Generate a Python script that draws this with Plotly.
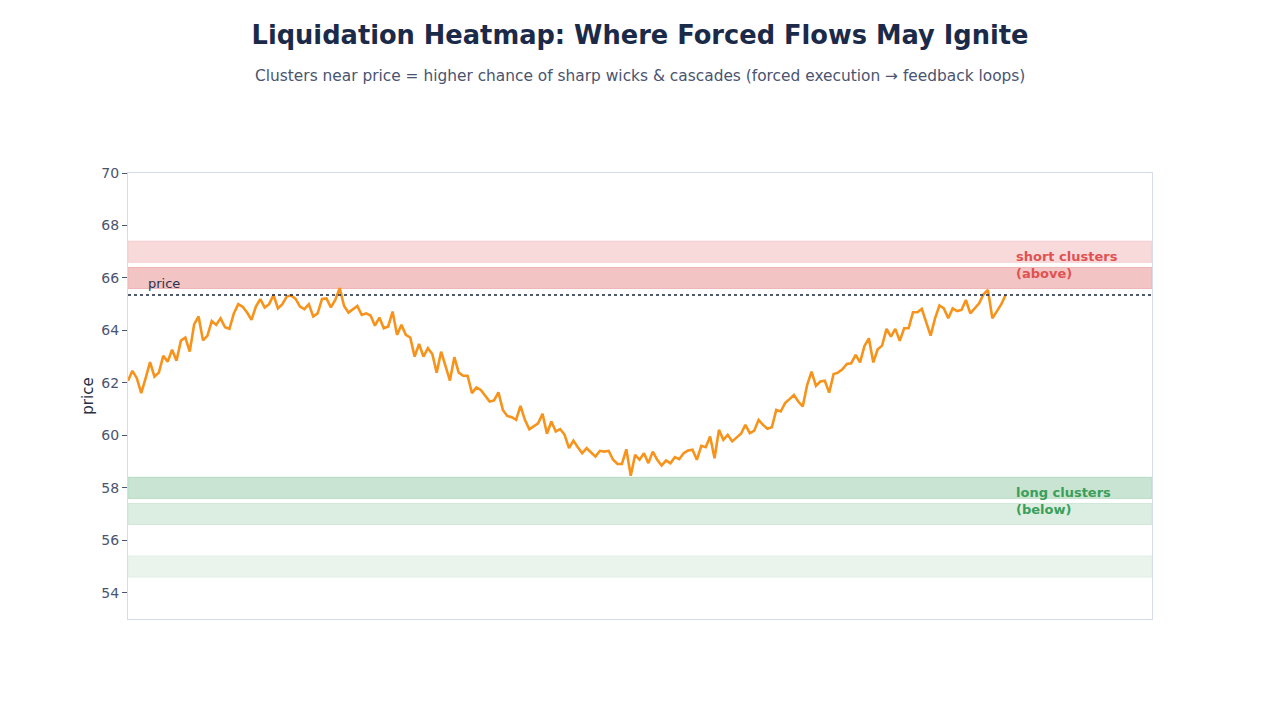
import plotly.graph_objects as go

# ---- data ----
prices = [
    62.08, 62.46, 62.18, 61.61, 62.18, 62.79, 62.24, 62.39, 63.03, 62.81,
    63.26, 62.84, 63.61, 63.73, 63.19, 64.23, 64.53, 63.62, 63.79, 64.36,
    64.21, 64.46, 64.12, 64.06, 64.65, 65.00, 64.90, 64.68, 64.40, 64.91,
    65.19, 64.87, 65.00, 65.35, 64.84, 65.00, 65.29, 65.33, 65.20, 64.91,
    64.81, 65.00, 64.53, 64.65, 65.20, 65.22, 64.88, 65.16, 65.61, 64.93,
    64.68, 64.81, 64.93, 64.59, 64.65, 64.57, 64.18, 64.49, 64.08, 64.15,
    64.72, 63.83, 64.21, 63.83, 63.73, 63.00, 63.48, 63.00, 63.32, 63.10,
    62.39, 63.19, 62.62, 62.09, 62.98, 62.39, 62.27, 62.27, 61.61, 61.83,
    61.73, 61.50, 61.29, 61.33, 61.64, 60.97, 60.74, 60.69, 60.59, 61.12,
    60.59, 60.23, 60.34, 60.46, 60.82, 60.06, 60.53, 60.15, 60.24, 60.02,
    59.51, 59.80, 59.55, 59.32, 59.51, 59.35, 59.19, 59.41, 59.38, 59.41,
    59.07, 58.91, 58.91, 59.47, 58.46, 59.26, 59.07, 59.32, 58.94, 59.38,
    59.07, 58.85, 59.04, 58.94, 59.17, 59.09, 59.32, 59.42, 59.45, 59.07,
    59.60, 59.55, 59.96, 59.13, 60.21, 59.83, 60.02, 59.77, 59.93, 60.06,
    60.40, 60.08, 60.18, 60.59, 60.40, 60.25, 60.31, 60.97, 60.91, 61.23,
    61.38, 61.54, 61.29, 61.10, 61.92, 62.43, 61.89, 62.05, 62.08, 61.63,
    62.34, 62.39, 62.52, 62.72, 62.75, 63.07, 62.78, 63.41, 63.70, 62.78,
    63.28, 63.42, 64.06, 63.76, 64.06, 63.60, 64.08, 64.08, 64.69, 64.69,
    64.82, 64.34, 63.80, 64.46, 64.95, 64.84, 64.46, 64.84, 64.74, 64.78,
    65.16, 64.65, 64.82, 65.03, 65.38, 65.54, 64.46, 64.74, 64.99, 65.35,
]
steps = list(range(len(prices)))

short_zones_low = [66.6, 65.6]
short_zones_high = [67.4, 66.4]
short_zone_colors = ["#f8dadb", "#f3c4c4"]
short_zone_edges = ["#f3cdce", "#edb3b3"]

long_zones_low = [57.6, 56.6, 54.6]
long_zones_high = [58.4, 57.4, 55.4]
long_zone_colors = ["#c9e4d2", "#dcede2", "#eaf4ec"]
long_zone_edges = ["#b5dbc1", "#cfe6d6", "#e2f0e6"]

y_ticks = [54, 56, 58, 60, 62, 64, 66, 68, 70]

title_text = "Liquidation Heatmap: Where Forced Flows May Ignite"
subtitle_text = "Clusters near price = higher chance of sharp wicks & cascades (forced execution \u2192 feedback loops)"

FONT = "DejaVu Sans"

fig = go.Figure()

for lo, hi, fc, ec in zip(short_zones_low, short_zones_high, short_zone_colors, short_zone_edges):
    fig.add_shape(type="rect", xref="paper", x0=0, x1=1, yref="y", y0=lo, y1=hi,
                  fillcolor=fc, line=dict(color=ec, width=1), layer="below")
for lo, hi, fc, ec in zip(long_zones_low, long_zones_high, long_zone_colors, long_zone_edges):
    fig.add_shape(type="rect", xref="paper", x0=0, x1=1, yref="y", y0=lo, y1=hi,
                  fillcolor=fc, line=dict(color=ec, width=1), layer="below")

last_price = prices[-1]
fig.add_shape(type="line", xref="paper", x0=0, x1=1, yref="y", y0=last_price, y1=last_price,
              line=dict(color="#1a2340", width=1.3, dash="dot"))

fig.add_trace(go.Scatter(x=steps, y=prices, mode="lines",
                         line=dict(color="#f7931a", width=2.6), showlegend=False,
                         hoverinfo="skip"))

fig.add_annotation(x=4.0, y=last_price, xref="x", yref="y", text="price",
                   showarrow=False, xanchor="left", yanchor="bottom", yshift=2,
                   font=dict(family=FONT, size=13, color="#2a3350"))

fig.add_annotation(x=len(prices) + 1, y=66.5, xref="x", yref="y",
                   text="<b>short clusters<br>(above)</b>", showarrow=False,
                   xanchor="left", yanchor="middle", align="left",
                   font=dict(family=FONT, size=13, color="#e05252"))
fig.add_annotation(x=len(prices) + 1, y=57.5, xref="x", yref="y",
                   text="<b>long clusters<br>(below)</b>", showarrow=False,
                   xanchor="left", yanchor="middle", align="left",
                   font=dict(family=FONT, size=13, color="#3a9f5a"))

fig.add_annotation(x=0.5, y=1.2175, xref="paper", yref="paper", text=subtitle_text,
                   showarrow=False, xanchor="center", yanchor="middle",
                   font=dict(family=FONT, size=15.4, color="#4a5470"))

fig.update_layout(
    width=1280, height=720,
    paper_bgcolor="white", plot_bgcolor="white",
    margin=dict(l=128, r=128, t=173, b=101),
    font=dict(family=FONT, color="#4a5470"),
    title=dict(text="<b>" + title_text + "</b>", x=0.5, xanchor="center",
               y=1 - 35 / 720, yanchor="middle", yref="container",
               font=dict(family=FONT, size=25.7, color="#1c2a4a")),
    showlegend=False,
)
fig.update_xaxes(range=[0, 232.2], showticklabels=False, ticks="", showgrid=False,
                 zeroline=False, showline=True, linecolor="#d5dbe8", linewidth=1, mirror=True)
fig.update_yaxes(range=[53, 70], tickvals=y_ticks, ticks="outside", ticklen=5,
                 tickcolor="#4a5470", showgrid=False, zeroline=False, showline=True,
                 linecolor="#d5dbe8", linewidth=1, mirror=True,
                 tickfont=dict(family=FONT, size=14, color="#4a5470"),
                 title=dict(text="price", font=dict(family=FONT, size=15, color="#2a2f45"), standoff=4))

fig.write_html("out.html")
